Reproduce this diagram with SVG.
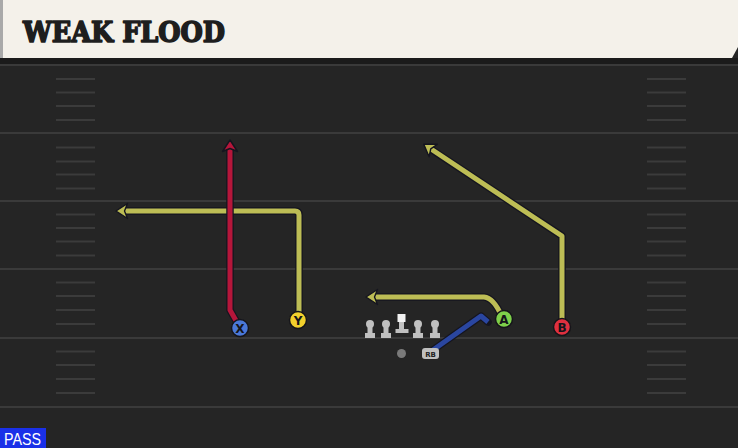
<svg xmlns="http://www.w3.org/2000/svg" width="738" height="448" viewBox="0 0 738 448">
<style>
.yl{stroke:#3a3a3a;stroke-width:2}
.hs{stroke:#3b3b3b;stroke-width:2}
.o{fill:none;stroke:#15151f;stroke-width:7.5;stroke-linejoin:round;stroke-linecap:round}
.r{fill:none;stroke-width:5;stroke-linejoin:round;stroke-linecap:butt}
.lbl{font-family:"DejaVu Sans","Liberation Sans",sans-serif;font-weight:bold;font-size:12px;fill:#15151a;text-anchor:middle}
.pc{stroke:#15151a;stroke-width:1.5}
.ol{fill:#c0c0c0}
</style>
<defs>
<marker id="ay" markerUnits="userSpaceOnUse" markerWidth="24" markerHeight="24" viewBox="-10 -12 24 24" refX="0" refY="0" orient="auto"><path d="M7,0 L-4.5,-7.5 L-1.5,0 L-4.5,7.5 Z" fill="#bdbd55" stroke="#15151f" stroke-width="1.4" stroke-linejoin="round"/></marker>
<marker id="ar" markerUnits="userSpaceOnUse" markerWidth="24" markerHeight="24" viewBox="-10 -12 24 24" refX="0" refY="0" orient="auto"><path d="M7,0 L-4.5,-7.5 L-1.5,0 L-4.5,7.5 Z" fill="#b5163a" stroke="#15151f" stroke-width="1.4" stroke-linejoin="round"/></marker>
</defs>
<rect width="738" height="448" fill="#252525"/>
<g id="field">
<rect x="0" y="58" width="738" height="6" fill="#1b1b1b"/>
<line class="yl" x1="0" y1="65" x2="738" y2="65"/>
<line class="yl" x1="0" y1="133" x2="738" y2="133"/>
<line class="yl" x1="0" y1="201" x2="738" y2="201"/>
<line class="yl" x1="0" y1="269" x2="738" y2="269"/>
<line class="yl" x1="0" y1="338" x2="738" y2="338"/>
<line class="yl" x1="0" y1="407" x2="738" y2="407"/>
<g id="hashes">
<path class="hs" d="M56,79H95M56,92.5H95M56,106H95M56,120H95M56,147.5H95M56,161.5H95M56,174.5H95M56,188.5H95M56,214.5H95M56,228H95M56,241.5H95M56,255.5H95M56,282.5H95M56,296H95M56,310H95M56,324H95M56,351.5H95M56,365H95M56,379H95M56,393H95"/>
<path class="hs" d="M647,79H686M647,92.5H686M647,106H686M647,120H686M647,147.5H686M647,161.5H686M647,174.5H686M647,188.5H686M647,214.5H686M647,228H686M647,241.5H686M647,255.5H686M647,282.5H686M647,296H686M647,310H686M647,324H686M647,351.5H686M647,365H686M647,379H686M647,393H686"/>
</g>
</g>
<g id="header">
<path d="M0,0 H738 V47 L732,58 H0 Z" fill="#f4f1ea"/>
<rect x="0" y="0" width="3" height="58" fill="#a9a9a9"/>
<text x="23" y="42" font-family="'DejaVu Serif',serif" font-weight="bold" font-size="27" textLength="202" lengthAdjust="spacingAndGlyphs" fill="#1e1e1e" stroke="#1e1e1e" stroke-width="1.6" stroke-linejoin="round">WEAK FLOOD</text>
</g>
<g id="connectors">
<path class="o" d="M299,318 V215 Q299,211 295,211 H122"/>
<path class="r" stroke="#bdbd55" d="M299,318 V215 Q299,211 295,211 H123" marker-end="url(#ay)"/>
<path class="o" d="M239,326 L230,310 V146"/>
<path class="r" stroke="#b5163a" d="M239,326 L230,310 V147" marker-end="url(#ar)"/>
<path class="o" d="M562,325 V236 L429,147.8"/>
<path class="r" stroke="#bdbd55" d="M562,325 V236 L429.5,148" marker-end="url(#ay)"/>
<path class="o" d="M502,317 Q494,298 484,297 H372"/>
<path class="r" stroke="#bdbd55" d="M502,317 Q494,298 484,297 H373" marker-end="url(#ay)"/>
<path class="o" d="M433,350 L481,316 L488,322"/>
<path class="r" stroke="#2a46a0" d="M433,350 L481,316 L488,322"/>
</g>
<g id="X"><circle class="pc" cx="240" cy="328" r="8.5" fill="#4a78d8"/><text class="lbl" x="240" y="332.5">X</text></g>
<g id="Y"><circle class="pc" cx="298" cy="320" r="8.5" fill="#f2d02c"/><text class="lbl" x="298" y="324.5">Y</text></g>
<g id="A"><circle class="pc" cx="504" cy="319" r="8.5" fill="#7ed04a"/><text class="lbl" x="504" y="323.5">A</text></g>
<g id="B"><circle class="pc" cx="562" cy="327" r="8.5" fill="#e0303f"/><text class="lbl" x="562" y="331.5">B</text></g>
<g id="OL1"><circle class="ol" cx="370" cy="324" r="4"/><rect class="ol" x="367.5" y="324" width="5" height="10"/><rect class="ol" x="365" y="333" width="10" height="5"/></g>
<g id="OL2"><circle class="ol" cx="386" cy="324" r="4"/><rect class="ol" x="383.5" y="324" width="5" height="10"/><rect class="ol" x="381" y="333" width="10" height="5"/></g>
<g id="C"><rect x="397.5" y="314" width="8" height="8" fill="#f2f2f2"/><rect class="ol" x="399" y="322" width="5" height="8"/><rect class="ol" x="395.5" y="329" width="13" height="4"/></g>
<g id="OL4"><circle class="ol" cx="418" cy="324" r="4"/><rect class="ol" x="415.5" y="324" width="5" height="10"/><rect class="ol" x="413" y="333" width="10" height="5"/></g>
<g id="OL5"><circle class="ol" cx="435" cy="324" r="4"/><rect class="ol" x="432.5" y="324" width="5" height="10"/><rect class="ol" x="430" y="333" width="10" height="5"/></g>
<g id="QB"><circle cx="401.5" cy="353.5" r="4.5" fill="#7a7a7a"/></g>
<g id="RB"><rect x="422" y="348" width="17" height="11" rx="3" fill="#c0c0c0"/><text x="430.5" y="356.5" font-family="'DejaVu Sans',sans-serif" font-weight="bold" font-size="7" fill="#222" text-anchor="middle">RB</text></g>
<g id="pass"><rect x="0" y="428" width="46" height="20" fill="#1a30e8"/><text x="4" y="445" font-family="'Liberation Sans',sans-serif" font-size="16" textLength="37" lengthAdjust="spacingAndGlyphs" fill="#ffffff">PASS</text></g>
</svg>
